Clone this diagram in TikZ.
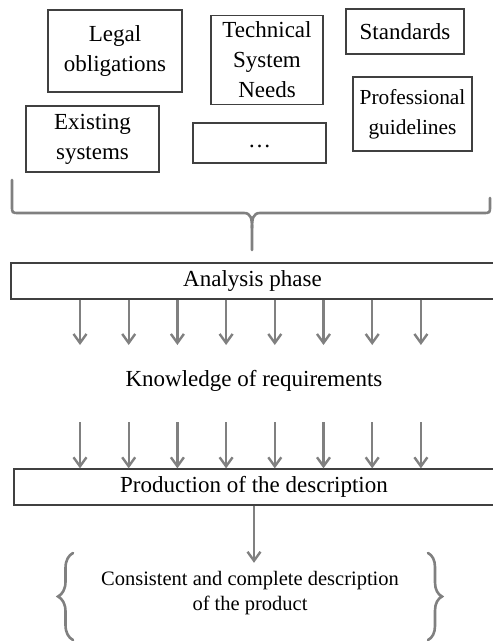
\documentclass[tikz,border=0pt]{standalone}
\usepackage{fontspec}
\setmainfont{Liberation Serif}
\usetikzlibrary{arrows.meta,decorations.pathreplacing}

\definecolor{boxgray}{RGB}{64,64,64}
\definecolor{linegray}{RGB}{128,128,128}

\begin{document}
\begin{tikzpicture}[x=0.5pt,y=-0.5pt,
  srcbox/.style={draw=boxgray,line width=0.65pt,align=center,inner sep=0pt,
    font=\fontsize{11.5}{15}\selectfont},
  phasebox/.style={draw=boxgray,line width=0.65pt,inner sep=0pt,minimum height=18pt,
    font=\fontsize{11.5}{14}\selectfont},
  flow/.style={draw=linegray,line width=1.2pt,-{Straight Barb[length=4.5pt,width=6.5pt]}},
  bracket/.style={draw=linegray,line width=1.3pt,line cap=round},
  curly/.style={bracket,decorate,decoration={brace,amplitude=7.5pt}}]

\useasboundingbox (0,0) rectangle (492,641) ;

% sources of the requirements
\node[srcbox,minimum width=67pt,minimum height=41pt] (legal) at (115,51) {Legal\\obligations} ;
\node[srcbox,minimum width=56pt,minimum height=44.5pt] (technical) at (267,60) {Technical\\System\\Needs} ;
\node[srcbox,minimum width=59pt,minimum height=22.5pt] (standards) at (405,31.5) {Standards} ;
\node[srcbox,minimum width=59.5pt,minimum height=37pt,font=\fontsize{10.7}{15}\selectfont] (professional) at (412.5,114) {Professional\\guidelines} ;
\node[srcbox,minimum width=66.5pt,minimum height=33pt] (existing) at (92.5,139) {Existing\\systems} ;
\node[srcbox,minimum width=66.5pt,minimum height=20pt,text height=7pt,text depth=2pt] (etc) at (259.5,143) {…} ;

% big bracket gathering the sources
\coordinate (tip) at (252,250) ;
\draw[bracket] (12,180) -- (12,206) .. controls (12,213) .. (19,213) -- (244,213)
  .. controls (251,213) and (252,219) .. (252,228) -- (tip) ;
\draw[bracket] (490,198) -- (490,206) .. controls (490,213) .. (483,213) -- (260,213)
  .. controls (253,213) and (252,219) .. (252,228) ;

\node[phasebox,minimum width=241.5pt] (analysis) at (252.5,281) {Analysis phase} ;

\node[font=\fontsize{11.5}{14}\selectfont] (knowledge) at (254,381) {Knowledge of requirements} ;

\node[phasebox,minimum width=240pt] (production) at (254,487) {Production of the description} ;

\foreach \i in {0,...,7} {
  \coordinate (a\i) at (80+48.7*\i,345) ;
  \coordinate (b\i) at (80+48.7*\i,422) ;
  \draw[flow] (a\i |- analysis.south) -- (a\i) ;
  \draw[flow] (b\i) -- (b\i |- production.north) ;
}

% the outcome
\node[align=center,inner sep=4pt,font=\fontsize{10.25}{12.5}\selectfont] (result) at (250,593)
  {Consistent and complete description\\of the product} ;

\draw[flow] (production.south) -- (production.south |- result.north) ;

\draw[curly] (73,640) -- (73,553) ;
\draw[curly,decoration={amplitude=7pt}] (428,553) -- (428,640) ;

\end{tikzpicture}
\end{document}
